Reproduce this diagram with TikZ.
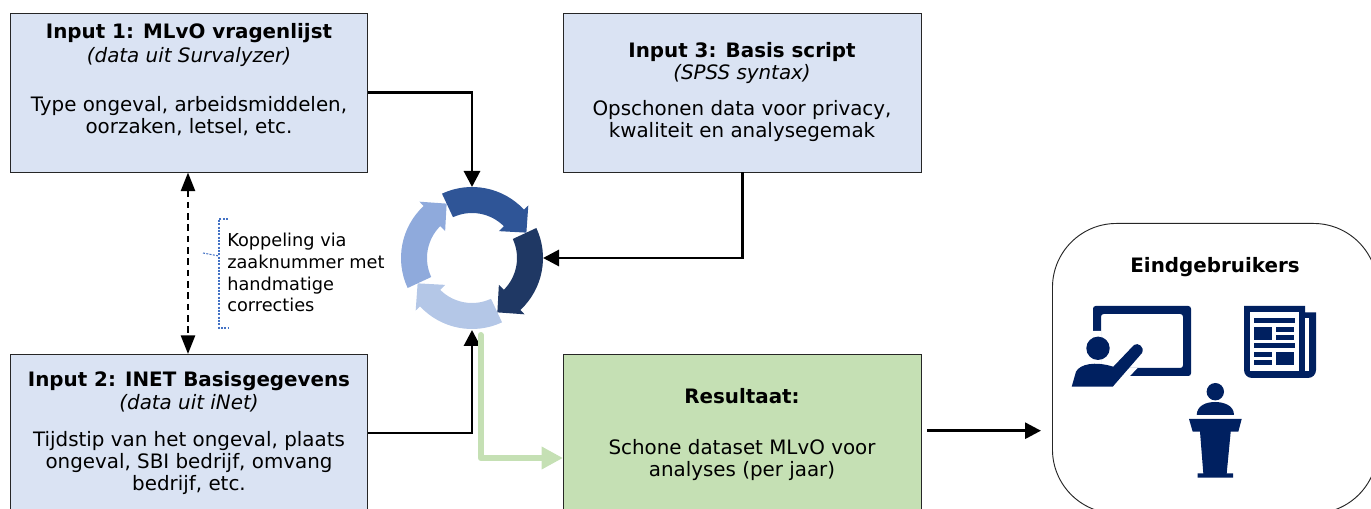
\documentclass[tikz,border=0pt]{standalone}
\usepackage{fontspec}
\setmainfont{DejaVu Sans}
\usetikzlibrary{arrows.meta}
\definecolor{boxblue}{HTML}{DAE3F3}
\definecolor{boxgreen}{HTML}{C5E0B4}
\definecolor{navy}{HTML}{002060}
\definecolor{segA}{HTML}{2F5597}
\definecolor{segB}{HTML}{1F3864}
\definecolor{segC}{HTML}{B4C7E7}
\definecolor{segD}{HTML}{8FAADC}
\definecolor{bracket}{HTML}{4472C4}
\tikzset{
  x=0.75pt,y=-0.75pt,
  inbox/.style={draw=black!85,line width=0.7pt,fill=boxblue,anchor=north west,inner sep=0pt,outer sep=0pt},
  outbox/.style={inbox,fill=boxgreen},
  boxtext/.style={font=\fontsize{14.9}{16.5}\selectfont,align=center,inner sep=0pt,anchor=base},
  conn/.style={line width=2.2pt,-{Triangle[length=12pt,width=12pt]}},
  seg/.pic={\fill[pic actions] (115:71) arc[start angle=115,end angle=43,radius=71] -- (43:77) -- (25:60) -- (45:38) -- (45:45) arc[start angle=45,end angle=115,radius=45] -- cycle;},
}
\begin{document}
\begin{tikzpicture}
\useasboundingbox (0,0) rectangle (1371,509);
\clip (0,0) rectangle (1371,509);
\node[inbox,minimum width=268pt,minimum height=119.25pt] (in1) at (10.5,13.5) {};
\node[inbox,minimum width=269pt,minimum height=119.25pt] (in3) at (563,13.5) {};
\node[inbox,minimum width=268pt,minimum height=120pt] (in2) at (10.5,354) {};
\node[outbox,minimum width=269pt,minimum height=120pt] (res) at (563,354) {};
\node[draw=black!85,line width=0.7pt,rounded corners=48pt,fill=white,anchor=north west,minimum width=243.75pt,minimum height=217.5pt,inner sep=0pt] (users) at (1052,223) {};
\node[boxtext] (t1) at (189,39) {\textbf{Input 1: MLvO vragenlijst}};
\node[boxtext] (t1b) at (189,63) {\textit{(data uit Survalyzer)}};
\node[boxtext] (t1c) at (189,134) {Type ongeval, arbeidsmiddelen,\\oorzaken, letsel, etc.};
\node[boxtext] (t3) at (742,58) {\textbf{Input 3: Basis script}};
\node[boxtext] (t3b) at (742,80) {\textit{(SPSS syntax)}};
\node[boxtext] (t3c) at (742,138) {Opschonen data voor privacy,\\kwaliteit en analysegemak};
\node[boxtext] (t2) at (189,387) {\textbf{Input 2: INET Basisgegevens}};
\node[boxtext] (t2b) at (189,410) {\textit{(data uit iNet)}};
\node[boxtext] (t2c) at (189,490) {Tijdstip van het ongeval, plaats\\ongeval, SBI bedrijf, omvang\\bedrijf, etc.};
\node[boxtext] (t4) at (742,404) {\textbf{Resultaat:}};
\node[boxtext] (t4c) at (742,476) {Schone dataset MLvO voor\\analyses (per jaar)};
\node[boxtext] (t5) at (1215,273) {\textbf{Eindgebruikers}};
\node[font=\fontsize{13.3}{16.3}\selectfont,align=left,anchor=base west,inner sep=0pt] (koppel) at (227,312) {Koppeling via\\zaaknummer met\\handmatige\\correcties};
% cycle
\coordinate (cyc) at (472,258);
\coordinate (cycT) at (472,187);
\coordinate (cycR) at (543,258);
\coordinate (cycB) at (472,330);
\begin{scope}[shift={(cyc)},x=0.75pt,y=0.75pt]
\pic[fill=segC,rotate=-180] {seg};
\pic[fill=segD,rotate=-270] {seg};
\pic[fill=segA] {seg};
\pic[fill=segB,rotate=-90] {seg};
\end{scope}
% connectors
\coordinate (c1) at (in1.east|-0,92.7);
\coordinate (c2) at (in2.east|-0,433);
\draw[conn] (c1) -| (cycT);
\draw[conn] (in3.south) |- (cycR);
\draw[conn] (c2) -| (cycB);
\draw[line width=2pt,dash pattern=on 5pt off 3.5pt,{Triangle[length=14pt,width=10.5pt]}-{Triangle[length=14pt,width=10.5pt]}] (in1.south-|188,0) -- (in2.north-|188,0);
\coordinate (g0) at (480.7,335);
\coordinate (g1) at (res.west|-0,458);
\draw[boxgreen,line width=4.5pt,line cap=round,line join=round,-{Triangle[length=16pt,width=16pt]}] (g0) |- (g1);
\coordinate (r0) at (927,430.7);
\coordinate (r1) at (1041,430.7);
\draw[conn] (r0) -- (r1);
\coordinate (b0) at (203,253);
\draw[bracket,dash pattern=on 1.5pt off 1pt,line width=0.8pt] (228,219) -- (219,219) -- (219,328) -- (228,328);
\draw[bracket,dash pattern=on 1.5pt off 1pt,line width=0.8pt] (b0) -- (219,256);
% teacher icon
\begin{scope}[navy]
\fill[rounded corners=2pt,even odd rule] (1093,306) rectangle (1191,376) (1101,314) rectangle (1183,368);
\fill[white] (1088,331) -- (1101.5,331) -- (1101.5,368) -- (1137.5,368) -- (1129,377) -- (1088,377) -- cycle;
\fill (1098,348.3) circle[radius=11.7];
\fill (1071.7,386.7) -- (1076,371.7) .. controls (1080,364) and (1095,361) .. (1113.3,366.7) -- (1134,345) .. controls (1138,342) and (1145,347) .. (1142,353) -- (1112.7,386.7) -- cycle;
% newspaper icon
\fill (1244,306) -- (1305,306) -- (1305,312.3) -- (1316,312.3) [rounded corners=6pt] -- (1316,378) -- (1244,378) [sharp corners] -- cycle;
\fill[white] (1250,312.3) rectangle (1299.3,371);
\fill[white] (1305,318.3) rectangle (1308.7,371);
\fill (1254,318) rectangle (1295,323);
\fill (1254,327) rectangle (1272,340);
\fill (1276,327) rectangle (1294,332);
\fill (1276,335) rectangle (1294,340);
\fill (1254,343) rectangle (1295,348);
\fill (1254,352) rectangle (1272,357);
\fill (1254,360) rectangle (1272,365);
\fill (1276,352) rectangle (1294,365);
% speaker icon
\fill (1215.3,391.7) circle[radius=8.7];
\fill (1196.7,415) .. controls (1197,405) and (1207,402) .. (1215,402) .. controls (1223,402) and (1234,405) .. (1234,415) -- cycle;
\fill (1189,419) -- (1241.7,419) -- (1238.3,431.7) -- (1230.7,431.7) -- (1226.7,473.3) -- (1233,473.3) -- (1233,477.7) -- (1197.7,477.7) -- (1197.7,473.3) -- (1203.3,473.3) -- (1200,431.7) -- (1192.7,431.7) -- cycle;
\end{scope}
\end{tikzpicture}
\end{document}
